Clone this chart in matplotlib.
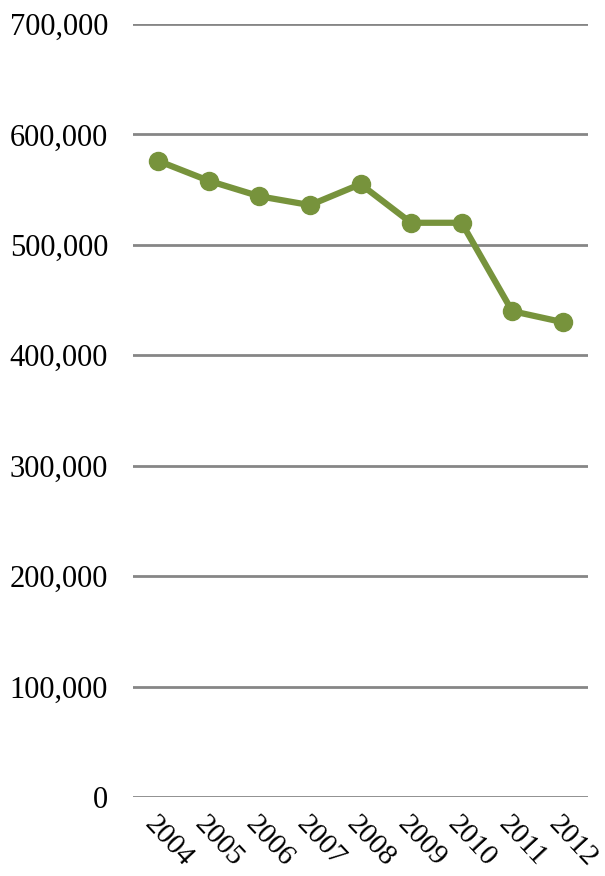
import matplotlib.pyplot as plt
from matplotlib.ticker import FuncFormatter

plt.rcParams['font.family'] = ['Liberation Serif', 'DejaVu Serif']

# 数据
years = ['2004', '2005', '2006', '2007', '2008', '2009', '2010', '2011', '2012']
values = [576000, 558000, 544000, 536000, 555000, 520000, 520000, 440000, 430000]

fig = plt.figure(figsize=(6.05, 8.76), dpi=100)
ax = fig.add_axes([133 / 605, 1 - 797 / 876, (588 - 133) / 605, (797 - 24) / 876])

x = list(range(len(years)))
ax.plot(x, values, color='#77933C', linewidth=4.5, marker='o', markersize=13,
        solid_capstyle='round', zorder=3)

ax.set_xlim(-0.5, len(years) - 0.5)
ax.set_ylim(0, 700000)
ax.set_yticks(range(0, 700001, 100000))
ax.yaxis.set_major_formatter(FuncFormatter(lambda v, p: f"{int(v):,}"))
ax.grid(axis='y', color='#868686', linewidth=2)
ax.set_axisbelow(True)

ax.set_xticks(x)
ax.set_xticklabels(years, rotation=-47, ha='left', va='top', rotation_mode='anchor')
ax.tick_params(axis='y', length=0, labelsize=22, pad=18)
ax.tick_params(axis='x', length=0, labelsize=21, pad=10)
for s in ax.spines.values():
    s.set_visible(False)

plt.savefig('out.png', dpi=100)
plt.close()
